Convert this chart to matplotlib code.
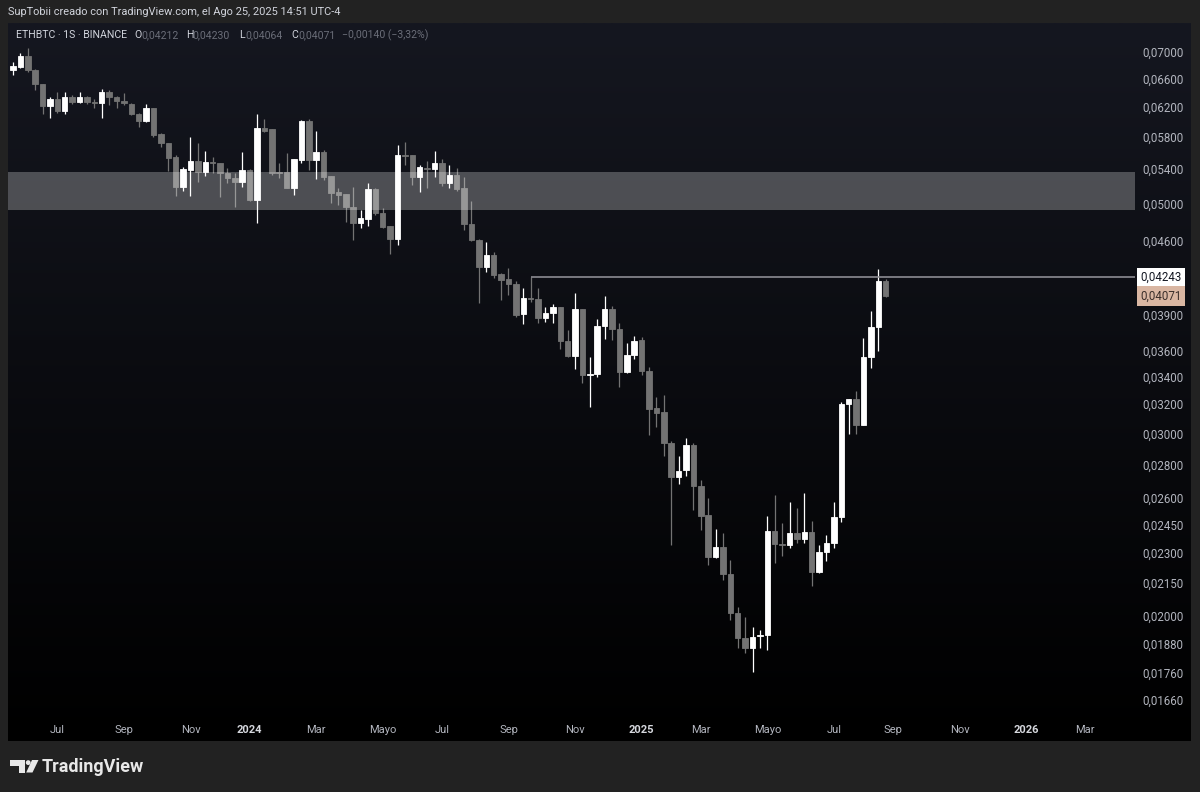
import numpy as np
import pandas as pd
import matplotlib
matplotlib.use("Agg")
import matplotlib.pyplot as plt
import matplotlib.dates as mdates
from matplotlib.patches import Rectangle, Circle, Polygon
from matplotlib.transforms import blended_transform_factory

# ---------------- data (weekly ETHBTC candles) ----------------
first_week = "2023-05-22"
opens = [0.06730, 0.06771, 0.06938, 0.06726, 0.06520, 0.06209, 0.06306, 0.06140, 0.06334, 0.06264,
         0.06334, 0.06264, 0.06250, 0.06405, 0.06334, 0.06278, 0.06237, 0.06099, 0.06005, 0.06181,
         0.05834, 0.05718, 0.05543, 0.05186, 0.05386, 0.05494, 0.05362, 0.05482, 0.05470, 0.05350,
         0.05290, 0.05244, 0.05386, 0.05038, 0.05912, 0.05899, 0.05362, 0.05362, 0.05174, 0.05506,
         0.06005, 0.05506, 0.05605, 0.05314, 0.05128, 0.05105, 0.04960, 0.04788, 0.04830, 0.05163,
         0.04894, 0.04755, 0.04620, 0.05568, 0.05568, 0.05302, 0.05409, 0.05398, 0.05470, 0.05232,
         0.05326, 0.05174, 0.04777, 0.04610, 0.04341, 0.04458, 0.04274, 0.04227, 0.04180, 0.03911,
         0.04052, 0.04043, 0.03876, 0.03919, 0.03972, 0.03683, 0.03562, 0.03954, 0.03415, 0.03423,
         0.03808, 0.03954, 0.03782, 0.03438, 0.03570, 0.03691, 0.03445, 0.03174, 0.03145, 0.02936,
         0.02722, 0.02765, 0.02923, 0.02668, 0.02502, 0.02279, 0.02330, 0.02194, 0.02012, 0.01904,
         0.01862, 0.01912, 0.01916, 0.02414, 0.02346, 0.02340, 0.02404, 0.02372, 0.02409, 0.02204,
         0.02304, 0.02351, 0.02491, 0.03202, 0.03238, 0.03056, 0.03554, 0.03799, 0.04212]
highs = [0.06846, 0.06985, 0.07063, 0.06741, 0.06520, 0.06334, 0.06405, 0.06405, 0.06362, 0.06405,
         0.06348, 0.06306, 0.06448, 0.06433, 0.06348, 0.06391, 0.06250, 0.06113, 0.06237, 0.06181,
         0.05847, 0.05718, 0.05568, 0.05421, 0.05795, 0.05718, 0.05617, 0.05543, 0.05470, 0.05409,
         0.05350, 0.05605, 0.05400, 0.06099, 0.06032, 0.05899, 0.05470, 0.05593, 0.05518, 0.06019,
         0.06032, 0.05873, 0.05630, 0.05314, 0.05174, 0.05105, 0.05186, 0.04927, 0.05232, 0.05174,
         0.04949, 0.04755, 0.05693, 0.05731, 0.05568, 0.05446, 0.05494, 0.05617, 0.05518, 0.05446,
         0.05409, 0.05302, 0.05027, 0.04620, 0.04589, 0.04488, 0.04284, 0.04332, 0.04208, 0.04143,
         0.04243, 0.04143, 0.03972, 0.03999, 0.03972, 0.03774, 0.04098, 0.03954, 0.03554, 0.03868,
         0.04070, 0.03981, 0.03834, 0.03667, 0.03724, 0.03716, 0.03476, 0.03252, 0.03266, 0.02949,
         0.02852, 0.02969, 0.02936, 0.02704, 0.02598, 0.02425, 0.02404, 0.02264, 0.02039, 0.01994,
         0.01951, 0.01938, 0.02497, 0.02615, 0.02458, 0.02575, 0.02541, 0.02627, 0.02469, 0.02340,
         0.02393, 0.02575, 0.03216, 0.03238, 0.03295, 0.03708, 0.03937, 0.04322, 0.04230]
lows = [0.06652, 0.06756, 0.06696, 0.06433, 0.06099, 0.06046, 0.06113, 0.06099, 0.06237, 0.06250,
        0.06237, 0.06181, 0.06046, 0.06223, 0.06181, 0.06223, 0.06086, 0.05925, 0.05992, 0.05795,
        0.05668, 0.05374, 0.05083, 0.05140, 0.05083, 0.05244, 0.05314, 0.05350, 0.05072, 0.05232,
        0.04960, 0.05186, 0.05030, 0.04788, 0.05860, 0.05326, 0.05290, 0.05174, 0.05094, 0.05470,
        0.05386, 0.05279, 0.05267, 0.05005, 0.04982, 0.04798, 0.04610, 0.04734, 0.04755, 0.04873,
        0.04734, 0.04468, 0.04558, 0.05446, 0.05209, 0.05128, 0.05174, 0.05302, 0.05198, 0.05174,
        0.05140, 0.04713, 0.04599, 0.04007, 0.04293, 0.04237, 0.04034, 0.04079, 0.03885, 0.03825,
        0.04016, 0.03834, 0.03842, 0.03834, 0.03618, 0.03554, 0.03461, 0.03355, 0.03181, 0.03400,
        0.03700, 0.03691, 0.03325, 0.03430, 0.03538, 0.03415, 0.02989, 0.03042, 0.02852, 0.02340,
        0.02680, 0.02728, 0.02530, 0.02420, 0.02239, 0.02274, 0.02166, 0.01981, 0.01862, 0.01841,
        0.01765, 0.01862, 0.01854, 0.02249, 0.02284, 0.02325, 0.02351, 0.02351, 0.02137, 0.02199,
        0.02259, 0.02325, 0.02463, 0.02995, 0.02995, 0.03056, 0.03469, 0.03602, 0.04064]
closes = [0.06786, 0.06938, 0.06726, 0.06520, 0.06209, 0.06306, 0.06140, 0.06334, 0.06264, 0.06334,
          0.06264, 0.06250, 0.06405, 0.06334, 0.06278, 0.06250, 0.06099, 0.06005, 0.06181, 0.05821,
          0.05718, 0.05530, 0.05186, 0.05398, 0.05494, 0.05362, 0.05482, 0.05470, 0.05350, 0.05290,
          0.05244, 0.05386, 0.05038, 0.05912, 0.05873, 0.05350, 0.05350, 0.05174, 0.05518, 0.06005,
          0.05506, 0.05605, 0.05302, 0.05117, 0.05094, 0.04960, 0.04788, 0.04840, 0.05163, 0.04894,
          0.04745, 0.04620, 0.05568, 0.05555, 0.05302, 0.05421, 0.05400, 0.05470, 0.05232, 0.05326,
          0.05163, 0.04777, 0.04610, 0.04341, 0.04458, 0.04265, 0.04218, 0.04180, 0.03902, 0.04052,
          0.04043, 0.03876, 0.03919, 0.03972, 0.03683, 0.03562, 0.03954, 0.03415, 0.03423, 0.03808,
          0.03954, 0.03782, 0.03438, 0.03570, 0.03683, 0.03445, 0.03166, 0.03138, 0.02936, 0.02722,
          0.02759, 0.02923, 0.02668, 0.02497, 0.02279, 0.02330, 0.02194, 0.02012, 0.01904, 0.01862,
          0.01908, 0.01916, 0.02414, 0.02346, 0.02340, 0.02404, 0.02372, 0.02409, 0.02204, 0.02304,
          0.02351, 0.02491, 0.03202, 0.03238, 0.03056, 0.03554, 0.03799, 0.04211, 0.04071]

zone_low, zone_high = 0.04927, 0.05362
hline_level = 0.04243
hline_start_week = 70          # index of candle where the drawn line starts
last_price = closes[-1]

y_ticks = [0.07000, 0.06600, 0.06200, 0.05800, 0.05400, 0.05000, 0.04600, 0.03900, 0.03600,
           0.03400, 0.03200, 0.03000, 0.02800, 0.02600, 0.02450, 0.02300, 0.02150, 0.02000,
           0.01880, 0.01760, 0.01660]
x_tick_dates = ["2023-07-03", "2023-09-04", "2023-11-06", "2024-01-01", "2024-03-04", "2024-05-06",
                "2024-07-01", "2024-09-02", "2024-11-04", "2025-01-06", "2025-03-03", "2025-05-05",
                "2025-07-07", "2025-09-01", "2025-11-03", "2026-01-05", "2026-03-02"]
x_tick_labels = ["Jul", "Sep", "Nov", "2024", "Mar", "Mayo", "Jul", "Sep", "Nov", "2025", "Mar",
                 "Mayo", "Jul", "Sep", "Nov", "2026", "Mar"]

# ---------------- figure ----------------
W, H = 1200, 792
FONT = ["Roboto", "DejaVu Sans"]
plt.rcParams["font.family"] = FONT
fig = plt.figure(figsize=(W / 100, H / 100), dpi=100, facecolor="#222222")

def fx(px):
    return px / W

def fy(py):
    return 1 - py / H

# panel background with vertical gradient
panel = fig.add_axes([fx(8), fy(741), fx(1191) - fx(8), fy(23) - fy(741)])
panel.set_axis_off()
top_c = np.array([0x15, 0x17, 0x20]) / 255
bot_c = np.array([0, 0, 0]) / 255
t = np.linspace(0, 1, 256)[:, None]
grad = (top_c[None, None, :] * (1 - t[..., None]) + bot_c[None, None, :] * t[..., None])
grad = np.repeat(grad, 2, axis=1)
panel.imshow(grad, aspect="auto", extent=[0, 1, 0, 1], interpolation="bilinear")
panel.set_xlim(0, 1)
panel.set_ylim(0, 1)

# main price axes
ax = fig.add_axes([fx(8), fy(715), fx(1135) - fx(8), fy(23) - fy(715)])
ax.set_facecolor("none")
ax.set_yscale("log")

dates = pd.date_range(first_week, periods=len(closes), freq="W-MON")
xd = mdates.date2num(dates)
o = np.array(opens)
h = np.array(highs)
l = np.array(lows)
c = np.array(closes)
up = c >= o

up_col = "#ffffff"
dn_col = "#737373"
cols = np.where(up, up_col, dn_col)

ax.vlines(xd, l, h, colors=cols, linewidth=0.9, zorder=2)
body_bottom = np.minimum(o, c)
body_h = np.abs(c - o)
ax.bar(xd, body_h, bottom=body_bottom, width=5.2, color=cols, edgecolor=cols,
       linewidth=0.6, zorder=2.5, align="center")

# zone band
ax.axhspan(zone_low, zone_high, color="white", alpha=0.26, lw=0, zorder=3)

# horizontal line
x_right = mdates.date2num(pd.Timestamp(dates[-1]) + pd.Timedelta(days=236))
x_left = mdates.date2num(pd.Timestamp(dates[0]) - pd.Timedelta(days=4.7))
ax.hlines(hline_level, xd[hline_start_week], x_right, colors="#8c8c92", linewidth=1.2, zorder=3)

ax.set_xlim(x_left, x_right)
ax.set_ylim(0.016041, 0.074660)

# axes styling
for s in ax.spines.values():
    s.set_visible(False)
ax.yaxis.tick_right()
ax.yaxis.set_major_locator(matplotlib.ticker.FixedLocator(y_ticks))
ax.yaxis.set_minor_locator(matplotlib.ticker.NullLocator())
ax.yaxis.set_major_formatter(matplotlib.ticker.FuncFormatter(
    lambda v, p: f"{v:.5f}".replace(".", ",")))
ax.tick_params(axis="y", length=0, pad=5, labelsize=8.3, labelcolor="#b2b5be")

ax.set_xticks(mdates.date2num(pd.to_datetime(x_tick_dates)))
ax.set_xticklabels(x_tick_labels)
ax.tick_params(axis="x", length=0, pad=7.5, labelsize=8.0, labelcolor="#b2b5be")
for lab in ax.get_xticklabels():
    if lab.get_text().isdigit():
        lab.set_fontweight("bold")
        lab.set_color("#d6d8de")

# price labels on the axis
btf = blended_transform_factory(ax.transAxes, ax.transData)
fmt = lambda v: f"{v:.5f}".replace(".", ",")
ax.text(1.0045, hline_level, fmt(hline_level), transform=btf, ha="left", va="center",
        fontsize=8.3, color="#131722", clip_on=False, zorder=10,
        bbox=dict(boxstyle="square,pad=0.28", fc="#ffffff", ec="none"))
ax.text(1.0045, last_price, fmt(last_price), transform=btf, ha="left", va="center",
        fontsize=8.3, color="#3a2e2a", clip_on=False, zorder=10,
        bbox=dict(boxstyle="square,pad=0.28", fc="#d9b6a2", ec="none"))

# ---------------- overlay texts ----------------
ov = fig.add_axes([0, 0, 1, 1])
ov.set_xlim(0, W)
ov.set_ylim(H, 0)
ov.set_axis_off()
ov.patch.set_alpha(0)

ov.text(8, 12, "SupTobii creado con TradingView.com, el Ago 25, 2025 14:51 UTC-4",
        fontsize=7.9, color="#d1d4dc", ha="left", va="center")

leg_y = 35.5
leg_fs = 7.6
main_c = "#d1d4dc"
dim_c = "#6a6d78"
ov.text(15.5, leg_y, "ETHBTC · 1S · BINANCE", fontsize=leg_fs, color=main_c, ha="left", va="center")
items = [("O", 134, fmt(opens[-1]), 141.5), ("H", 186, fmt(highs[-1]), 192.5),
         ("L", 239.5, fmt(lows[-1]), 245.5), ("C", 291, fmt(closes[-1]), 298.5)]
for letter, lx, val, vx in items:
    ov.text(lx, leg_y, letter, fontsize=leg_fs, color=main_c, ha="left", va="center")
    ov.text(vx, leg_y, val, fontsize=leg_fs, color=dim_c, ha="left", va="center")
chg = closes[-1] - closes[-2]
pct = chg / closes[-2] * 100
ov.text(342, leg_y, f"\u2212{abs(chg):.5f} (\u2212{abs(pct):.2f}%)".replace(".", ","),
        fontsize=leg_fs, color=dim_c, ha="left", va="center")

# TradingView logo
logo_c = "#e8e8e8"
ov.add_patch(Rectangle((10, 760), 15, 5.6, color=logo_c, lw=0))
ov.add_patch(Rectangle((18.5, 760), 6.5, 12.5, color=logo_c, lw=0))
ov.add_patch(Circle((28.2, 762.6), 2.4, color=logo_c, lw=0))
ov.add_patch(Polygon([(32.0, 760), (38.5, 760), (32.5, 772.5), (26.2, 772.5)], closed=True,
                     color=logo_c, lw=0))
ov.text(42, 767, "TradingView", fontsize=13.0, fontweight="bold", color=logo_c,
        ha="left", va="center")

fig.savefig("out.png", dpi=100, facecolor=fig.get_facecolor())
